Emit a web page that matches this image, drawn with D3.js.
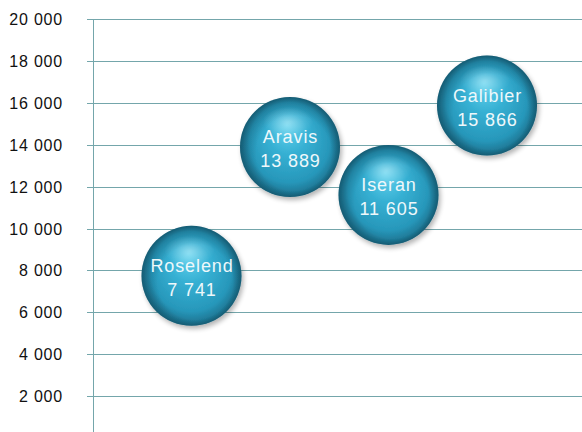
<!DOCTYPE html>
<html><head><meta charset="utf-8">
<script src="https://cdn.jsdelivr.net/npm/d3@7"></script>
<style>html,body{margin:0;padding:0;background:#fff;}svg{display:block;}</style>
</head><body>
<svg id="chart" width="582" height="432"></svg>
<script>
const names = ["Roselend", "Aravis", "Iseran", "Galibier"];
const xPos = [1, 2, 3, 4];
const values = [7741, 13889, 11605, 15866];
const yTicks = [2000, 4000, 6000, 8000, 10000, 12000, 14000, 16000, 18000, 20000];

const svg = d3.select("#chart");
const W = 582, H = 432;
const x = d3.scaleLinear().domain([0, 5]).range([93, 585.5]);
const y = d3.scaleLinear().domain([0, 20000]).range([438, 19]);
const fmt = v => d3.format(",")(v).replace(/,/g, " ");

// gridlines
svg.append("g").selectAll("line").data(yTicks).join("line")
  .attr("x1", 87).attr("x2", W)
  .attr("y1", d => Math.round(y(d)) + 0.5).attr("y2", d => Math.round(y(d)) + 0.5)
  .attr("stroke", "#74a6ab").attr("stroke-width", 1);

// axis line
svg.append("line").attr("x1", 93.5).attr("x2", 93.5).attr("y1", y(20000)).attr("y2", H)
  .attr("stroke", "#74a6ab").attr("stroke-width", 1);

// tick labels
svg.append("g").selectAll("text").data(yTicks).join("text")
  .attr("x", 63).attr("y", d => y(d) + 6)
  .attr("text-anchor", "end")
  .attr("font-family", "Liberation Sans, Arial, sans-serif")
  .attr("font-size", 16).attr("letter-spacing", 0.8).attr("fill", "#111")
  .text(fmt);

// gradients
const defs = svg.append("defs");
const g = defs.append("radialGradient").attr("id", "ball")
  .attr("cx", "50%").attr("cy", "50%").attr("r", "50%")
  .attr("fx", "47%").attr("fy", "28%");
g.append("stop").attr("offset", "0%").attr("stop-color", "#66d4ef");
g.append("stop").attr("offset", "40%").attr("stop-color", "#36b0d3");
g.append("stop").attr("offset", "80%").attr("stop-color", "#2797ba");
g.append("stop").attr("offset", "100%").attr("stop-color", "#1b6d89");

const sh = defs.append("radialGradient").attr("id", "shade")
  .attr("cx", "50%").attr("cy", "50%").attr("r", "50%")
  .attr("fx", "65%").attr("fy", "75%");
sh.append("stop").attr("offset", "0%").attr("stop-color", "#0a3a4a").attr("stop-opacity", 0);
sh.append("stop").attr("offset", "75%").attr("stop-color", "#0a3a4a").attr("stop-opacity", 0);
sh.append("stop").attr("offset", "100%").attr("stop-color", "#0a3a4a").attr("stop-opacity", 0.35);

const hl = defs.append("radialGradient").attr("id", "hl")
  .attr("cx", "50%").attr("cy", "50%").attr("r", "50%");
hl.append("stop").attr("offset", "0%").attr("stop-color", "#fff").attr("stop-opacity", 0.3);
hl.append("stop").attr("offset", "100%").attr("stop-color", "#fff").attr("stop-opacity", 0);

const sd = defs.append("filter").attr("id", "drop").attr("x", "-30%").attr("y", "-30%").attr("width", "160%").attr("height", "160%");
sd.append("feGaussianBlur").attr("in", "SourceAlpha").attr("stdDeviation", 2.5);
sd.append("feOffset").attr("dx", 1.5).attr("dy", 3).attr("result", "ob");
sd.append("feComponentTransfer").append("feFuncA").attr("type", "linear").attr("slope", 0.3);
const mg = sd.append("feMerge");
mg.append("feMergeNode");
mg.append("feMergeNode").attr("in", "SourceGraphic");

const R = 50;
const data = names.map((n, i) => ({name: n, x: xPos[i], v: values[i]}));
const bub = svg.append("g").selectAll("g").data(data).join("g")
  .attr("transform", d => `translate(${x(d.x)},${y(d.v)})`);

bub.append("circle").attr("r", R).attr("fill", "url(#ball)").attr("filter", "url(#drop)");
bub.append("circle").attr("r", R).attr("fill", "url(#shade)");
bub.append("ellipse").attr("cx", -2).attr("cy", -R * 0.5).attr("rx", R * 0.5).attr("ry", R * 0.3).attr("fill", "url(#hl)");

bub.append("text").attr("x", 0.5).attr("y", -4).attr("text-anchor", "middle")
  .attr("font-family", "Liberation Sans, Arial, sans-serif").attr("font-size", 18)
  .attr("letter-spacing", 0.9)
  .attr("fill", "#eef8fb").text(d => d.name);
bub.append("text").attr("x", 0.5).attr("y", 20).attr("text-anchor", "middle")
  .attr("font-family", "Liberation Sans, Arial, sans-serif").attr("font-size", 18)
  .attr("letter-spacing", 0.9)
  .attr("fill", "#eef8fb").text(d => fmt(d.v));
</script>
</body></html>
